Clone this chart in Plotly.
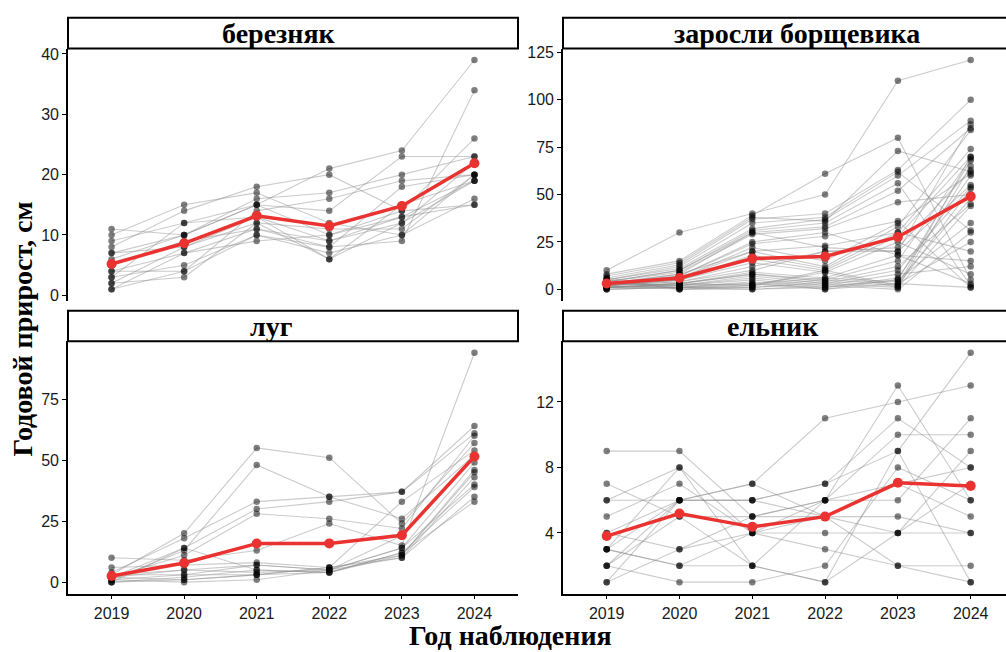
import numpy as np
import plotly.graph_objects as go

years = [2019, 2020, 2021, 2022, 2023, 2024]
panel_titles = ["березняк", "заросли борщевика", "луг", "ельник"]

# individual plants: values for 2019..2024
birch = [
    [11, 10, 15, 21, 24, 39], [10, 15, 17, 12, 10, 20], [9, 12, 13, 9, 13, 19],
    [8, 14, 18, 20, 14, 26], [7, 8, 12, 6, 12, 19], [6, 10, 16, 17, 20, 23],
    [5, 9, 11, 8, 9, 34], [4, 4, 14, 16, 19, 20], [4, 7, 9, 10, 13, 15],
    [3, 12, 15, 14, 23, 23], [3, 5, 10, 7, 10, 16], [2, 3, 12, 11, 11, 20],
    [2, 8, 13, 6, 15, 19], [1, 7, 11, 9, 12, 22], [1, 4, 10, 8, 18, 20],
    [7, 10, 15, 10, 14, 15],
]
hogweed = [
    [10, 30, 40, 50, 110, 121], [8, 15, 39, 61, 80, 5], [7, 14, 38, 36, 73, 62],
    [6, 13, 37, 40, 63, 100], [5, 12, 35, 38, 62, 31], [5, 11, 32, 37, 60, 89],
    [4, 10, 31, 35, 56, 2], [4, 10, 30, 33, 52, 85], [4, 9, 29, 32, 46, 50],
    [3, 8, 20, 23, 30, 74], [3, 8, 30, 22, 20, 87], [3, 7, 25, 30, 18, 15],
    [3, 7, 24, 28, 36, 1], [3, 6, 22, 15, 35, 61], [2, 6, 20, 12, 33, 84],
    [2, 5, 18, 11, 30, 20], [2, 5, 16, 10, 28, 70], [2, 5, 14, 9, 25, 8],
    [2, 4, 12, 20, 22, 63], [2, 4, 10, 20, 20, 55], [1, 3, 9, 6, 18, 3],
    [1, 3, 8, 5, 15, 69], [1, 3, 8, 4, 12, 45], [1, 2, 7, 3, 10, 54],
    [1, 2, 6, 2, 8, 12], [1, 2, 5, 1, 6, 60], [1, 1, 4, 0, 5, 35],
    [0, 1, 3, 6, 4, 48], [0, 1, 2, 5, 3, 25], [0, 1, 1, 4, 2, 53],
    [5, 0, 1, 3, 1, 44], [6, 0, 0, 2, 0, 30], [4, 1, 0, 1, 5, 68],
    [3, 2, 3, 0, 3, 1], [2, 3, 2, 10, 2, 70], [2, 0, 2, 9, 1, 65],
]
meadow = [
    [3, 20, 55, 51, 24, 57], [1, 13, 48, 35, 26, 52], [4, 18, 33, 35, 37, 64],
    [0, 14, 30, 33, 37, 61], [2, 11, 28, 26, 22, 60], [10, 9, 13, 24, 15, 94],
    [6, 7, 8, 6, 33, 54], [2, 5, 7, 5, 19, 52], [3, 5, 4, 5, 14, 49],
    [1, 3, 7, 5, 14, 40], [0, 2, 5, 4, 11, 46], [2, 1, 3, 6, 11, 45],
    [1, 0, 1, 5, 10, 43], [3, 3, 3, 4, 12, 39], [0, 1, 3, 6, 10, 35],
    [2, 14, 5, 4, 12, 33],
]
spruce = [
    [9, 9, 5, 5, 4, 4], [7, 5, 2, 1, 9, 15], [6, 8, 4, 6, 13, 6],
    [6, 6, 7, 11, 12, 13], [5, 7, 4, 5, 7, 8], [4, 6, 6, 7, 9, 1],
    [4, 3, 5, 6, 6, 11], [3, 8, 2, 1, 4, 9], [3, 2, 4, 3, 2, 2],
    [3, 6, 6, 7, 11, 8], [2, 1, 1, 2, 8, 6], [2, 5, 5, 6, 10, 10],
    [1, 6, 7, 5, 5, 4], [1, 3, 4, 4, 4, 7], [3, 2, 2, 6, 7, 5],
    [2, 6, 6, 5, 2, 1],
]

W, H = 1006, 652

def px(x):
    return x / W

def py(y):
    return 1 - y / H

# panel pixel boxes (x0, x1, y_top, y_bottom)
boxes = [(68, 518, 45, 300), (563, 1006, 45, 300), (68, 518, 341, 596), (563, 1006, 341, 596)]
strip_right = [518, 1020, 518, 1020]
y_ranges = [[-0.9, 40.9], [-6.05, 127.05], [-4.7, 98.7], [0.3, 15.7]]
y_ticks = [[0, 10, 20, 30, 40], [0, 25, 50, 75, 100, 125], [0, 25, 50, 75], [4, 8, 12]]
x_ranges = [[2018.4, 2024.6], [2018.4, 2024.485], [2018.4, 2024.6], [2018.4, 2024.485]]
strip_centers = [279, 797, 271, 773]

datasets = [birch, hogweed, meadow, spruce]

fig = go.Figure()
tick_font = dict(family="Liberation Sans, Arial, sans-serif", size=16, color="#1a1a1a")
serif_bold = dict(family="Liberation Serif, Times New Roman, serif", size=28,
                  color="black", weight="bold")

for i, data in enumerate(datasets):
    xa = "x" if i == 0 else f"x{i+1}"
    ya = "y" if i == 0 else f"y{i+1}"
    for row in data:
        fig.add_trace(go.Scatter(x=years, y=row, mode="lines",
                                 line=dict(color="rgba(140,140,140,0.45)", width=1.1),
                                 xaxis=xa, yaxis=ya, showlegend=False, hoverinfo="skip"))
    allx = [yr for row in data for yr in years]
    ally = [v for row in data for v in row]
    fig.add_trace(go.Scatter(x=allx, y=ally, mode="markers",
                             marker=dict(color="rgba(0,0,0,0.5)", size=6.5, line=dict(width=0)),
                             xaxis=xa, yaxis=ya, showlegend=False, hoverinfo="skip"))
    means = np.mean(np.array(data, dtype=float), axis=0)
    fig.add_trace(go.Scatter(x=years, y=means, mode="lines+markers",
                             line=dict(color="#ea3330", width=3.5),
                             marker=dict(color="#ea3330", size=10),
                             xaxis=xa, yaxis=ya, showlegend=False))

    x0, x1, yt, yb = boxes[i]
    bottom = i >= 2
    xkey = "xaxis" if i == 0 else f"xaxis{i+1}"
    ykey = "yaxis" if i == 0 else f"yaxis{i+1}"
    fig.update_layout(**{
        xkey: dict(domain=[px(x0), min(px(x1), 1.0)], range=x_ranges[i], anchor=ya,
                   tickvals=years, ticktext=[str(y) for y in years],
                   showticklabels=bottom, ticks="outside" if bottom else "",
                   ticklen=4, tickwidth=1.2, tickcolor="black",
                   showline=bottom, linecolor="black", linewidth=1.6,
                   showgrid=False, zeroline=False, tickfont=tick_font),
        ykey: dict(domain=[py(yb), py(yt)], range=y_ranges[i], anchor=xa,
                   tickvals=y_ticks[i], ticks="outside", ticklen=4, tickwidth=1.2,
                   tickcolor="black", showline=True, linecolor="black", linewidth=1.6,
                   showgrid=False, zeroline=False, tickfont=tick_font),
    })

    # strip box
    st_top = yt - 31
    fig.add_shape(type="rect", xref="paper", yref="paper",
                  x0=px(x0), x1=px(strip_right[i]), y0=py(yt), y1=py(st_top),
                  line=dict(color="black", width=2), fillcolor="white", layer="above")
    fig.add_annotation(x=px(strip_centers[i]), y=py((yt + st_top) / 2), xref="paper", yref="paper",
                       text=panel_titles[i], showarrow=False, xanchor="center", yanchor="middle",
                       font=serif_bold)

fig.add_annotation(x=px(22), y=py(329), xref="paper", yref="paper", text="Годовой прирост, см",
                   textangle=-90, showarrow=False, xanchor="center", yanchor="middle",
                   font=serif_bold)
fig.add_annotation(x=px(510), y=py(638), xref="paper", yref="paper", text="Год наблюдения",
                   showarrow=False, xanchor="center", yanchor="middle",
                   font=serif_bold)

fig.update_layout(width=W, height=H, margin=dict(l=0, r=0, t=0, b=0),
                  paper_bgcolor="white", plot_bgcolor="white")

fig.write_html("out.html", config={"displayModeBar": False},
               post_script="document.body.style.margin='0';document.body.style.overflow='hidden';")
